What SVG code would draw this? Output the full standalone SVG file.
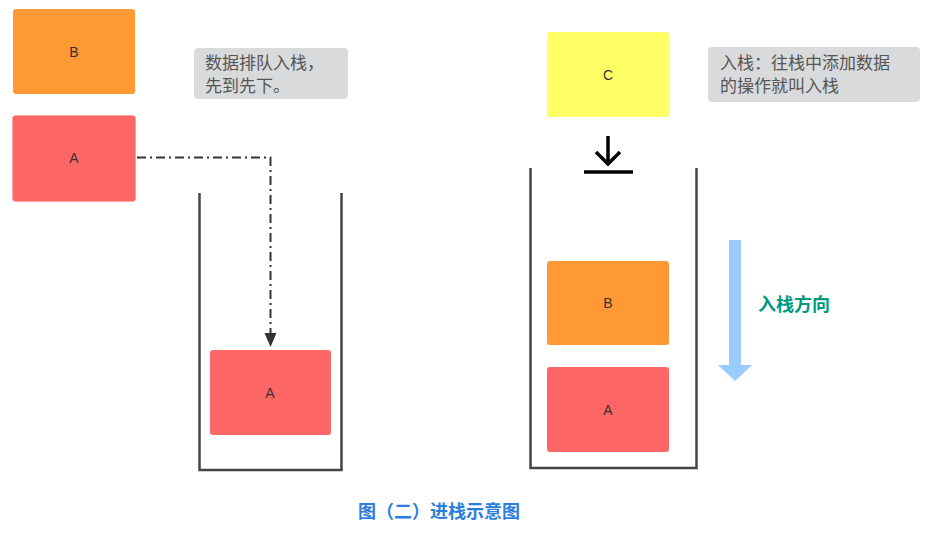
<svg xmlns="http://www.w3.org/2000/svg" width="948" height="537" viewBox="0 0 948 537">
<style>
.lbl{font-family:"Liberation Sans","Noto Sans CJK SC",sans-serif;font-size:14px;fill:#333;text-anchor:middle;dominant-baseline:central}
.note{fill:#d9dadc}
.nt{font-family:"Noto Sans CJK SC","Liberation Sans",sans-serif;font-size:17px;fill:#555}
.wall{fill:none;stroke:#444;stroke-width:2.5}
</style>
<defs>
<marker id="ah" markerWidth="14" markerHeight="14" refX="14" refY="7" orient="auto" markerUnits="userSpaceOnUse" viewBox="0 0 14 14">
<path d="M0,1 L14,7 L0,13 Z" fill="#333"/>
</marker>
</defs>
<rect width="948" height="537" fill="#fff"/>

<g id="nodeB1"><rect x="13" y="9" width="122" height="85" rx="3" fill="#ff9933"/><text class="lbl" x="74" y="52">B</text></g>
<g id="nodeA1"><rect x="12.5" y="115.5" width="123" height="86" rx="3" fill="#ff6666" stroke="#ff9999" stroke-dasharray="2,2"/><text class="lbl" x="74" y="158">A</text></g>
<g id="note1"><rect class="note" x="194" y="48" width="154" height="51" rx="4"/><text class="nt" x="205" y="69">数据排队入栈，</text><text class="nt" x="205" y="92">先到先下。</text></g>

<g id="stack1"><path class="wall" d="M199.5,193 V470 H341.5 V193"/></g>
<g id="nodeA2"><rect x="210" y="350" width="121" height="85" rx="3" fill="#ff6666"/><text class="lbl" x="270" y="393">A</text></g>

<g id="nodeC"><rect x="547" y="32" width="122" height="85" rx="3" fill="#ffff66"/><text class="lbl" x="608" y="75">C</text></g>
<g id="note2"><rect class="note" x="708" y="47" width="212" height="55" rx="4"/><text class="nt" x="720" y="69">入栈：往栈中添加数据</text><text class="nt" x="720" y="92">的操作就叫入栈</text></g>
<g id="pushIcon"><path d="M608,136 V163 M596,152 L608,164 L620,152" fill="none" stroke="#000" stroke-width="3.5"/><line x1="584" y1="172" x2="633" y2="172" stroke="#000" stroke-width="3.5"/></g>

<g id="stack2"><path class="wall" d="M530.5,168 V468 H696.5 V168"/></g>
<g id="nodeB2"><rect x="547" y="261" width="122" height="84" rx="3" fill="#ff9933"/><text class="lbl" x="608" y="303">B</text></g>
<g id="nodeA3"><rect x="547" y="367" width="122" height="85" rx="3" fill="#ff6666"/><text class="lbl" x="608" y="410">A</text></g>

<g id="dirArrow"><path d="M729,240 H741 V365 H752 L735,381 L718,365 H729 Z" fill="#99ccff"/><text x="758" y="311" font-family="Noto Sans CJK SC,sans-serif" font-size="18" font-weight="bold" fill="#009980">入栈方向</text></g>

<g id="connectors"><path d="M137,157.5 H270.5 V347" fill="none" stroke="#333" stroke-width="2" stroke-dasharray="9,4,2,4" marker-end="url(#ah)"/></g>

<text x="439" y="518" text-anchor="middle" font-family="Noto Sans CJK SC,sans-serif" font-size="18" font-weight="bold" fill="#2b7de0">图（二）进栈示意图</text>
</svg>
